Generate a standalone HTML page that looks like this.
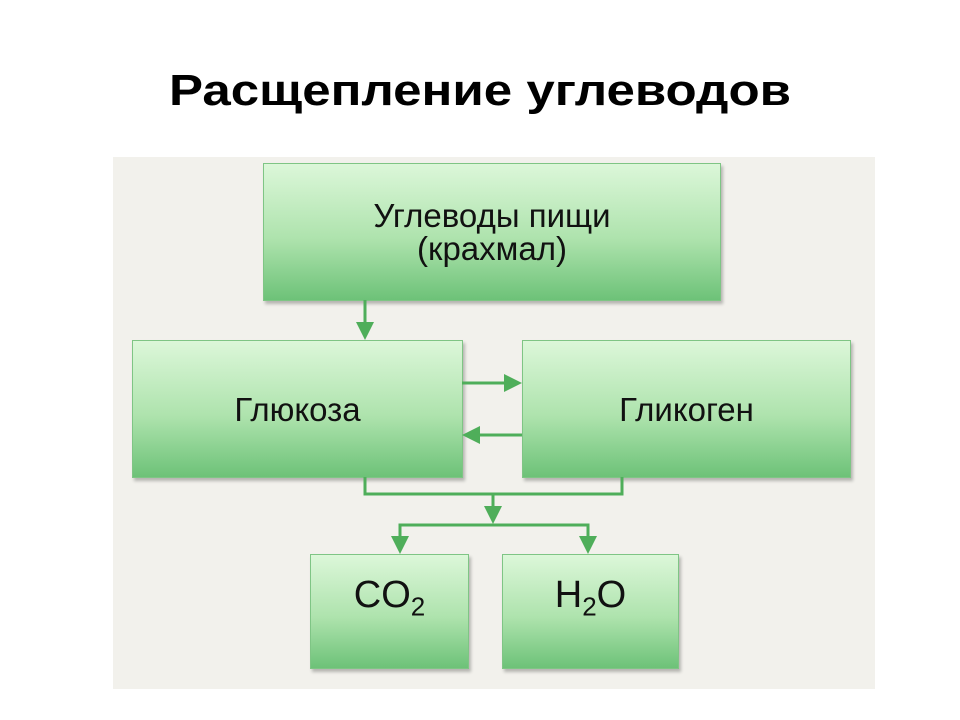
<!DOCTYPE html>
<html><head><meta charset="utf-8"><style>
body{margin:0;width:960px;height:720px;background:#fff;position:relative;overflow:hidden;font-family:"Liberation Sans",sans-serif}
.t{position:absolute;left:0;width:960px;top:66px;text-align:center;font-family:"Liberation Sans","DejaVu Sans",sans-serif;font-weight:bold;font-size:44px;color:#000;transform:scaleX(1.16)}
.panel{position:absolute;left:113px;top:157px;width:762px;height:532px;background:#f2f1ec}
.b{position:absolute;border:1px solid #7fc585;background:linear-gradient(#dcf7d9,#aee3ad 55%,#6dc278);box-shadow:2px 3px 3px rgba(0,0,0,.25);display:flex;align-items:center;justify-content:center;text-align:center;color:#111;font-size:33px;line-height:33px}
</style></head><body>
<div class="t">Расщепление углеводов</div>
<div class="panel"></div>
<div class="b" style="left:263px;top:163px;width:456px;height:136px">Углеводы пищи<br>(крахмал)</div>
<div class="b" style="left:132px;top:340px;width:329px;height:136px">Глюкоза</div>
<div class="b" style="left:522px;top:340px;width:327px;height:136px">Гликоген</div>
<div class="b" style="left:310px;top:554px;width:157px;height:113px;font-size:38px"><span style="margin-top:-20px">CO<sub style="font-size:26px">2</sub></span></div>
<div class="b" style="left:502px;top:554px;width:175px;height:113px;font-size:38px"><span style="margin-top:-20px">H<sub style="font-size:26px">2</sub>O</span></div>
<svg width="960" height="720" style="position:absolute;left:0;top:0">
<g stroke="#4fae5a" stroke-width="3" fill="none">
<path d="M365 300V326"/>
<path d="M462 383H508"/>
<path d="M522 435H476"/>
<path d="M365 477V494H622V477"/>
<path d="M493 494V510"/>
<path d="M400 540V525H588V540"/>
</g>
<g fill="#4fae5a">
<path d="M356 322L374 322L365 340Z"/>
<path d="M504 374L522 383L504 392Z"/>
<path d="M480 426L462 435L480 444Z"/>
<path d="M484 506L502 506L493 524Z"/>
<path d="M391 536L409 536L400 554Z"/>
<path d="M579 536L597 536L588 554Z"/>
</g>
</svg>
</body></html>
